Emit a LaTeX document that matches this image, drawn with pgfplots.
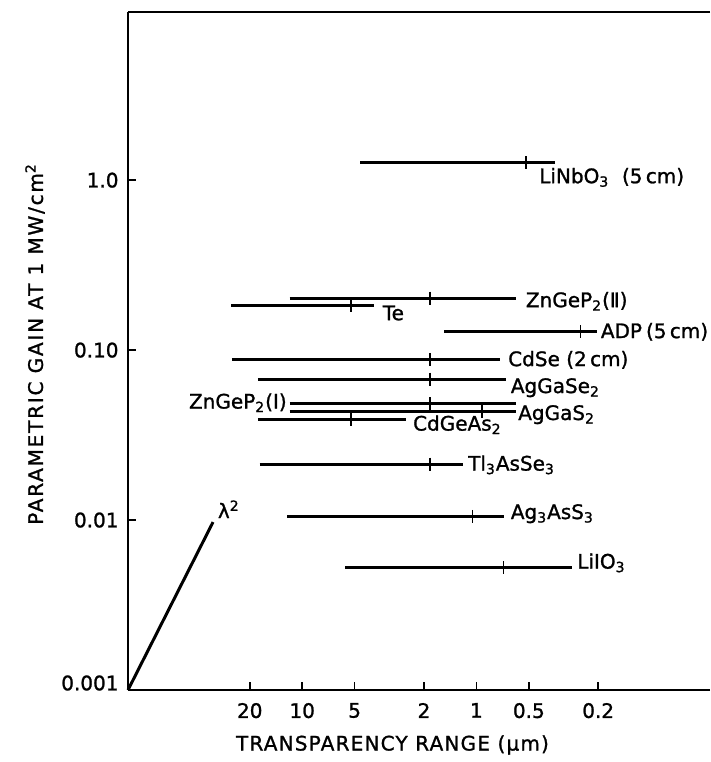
\documentclass[border=0pt]{standalone}
\usepackage{fontspec}
\setmainfont[FakeBold=1.2]{DejaVu Sans}
\newfontfamily\spacedY[LetterSpace=9,FakeBold=1.2]{DejaVu Sans}
\newfontfamily\spacedX[LetterSpace=6,FakeBold=1.2]{DejaVu Sans}
\usepackage{pgfplots}
\pgfplotsset{compat=1.18}
\usetikzlibrary{calc}
\begin{document}
\begin{tikzpicture}
\begin{axis}[
  name=ax, scale only axis, width=291pt, height=339.15pt,
  xmode=log, ymode=log, x dir=reverse,
  xmin=0.0456, xmax=100, ymin=0.001, ymax=9.8,
  separate axis lines, axis x line*=box, axis y line*=left,
  axis line style={line width=1pt, black},
  xtick={20,10,5,2,1,0.5,0.2}, xticklabels={20,10,5,2,1,0.5,0.2},
  xtick pos=left, ytick pos=left,
  ytick={0.01,0.1,1}, yticklabels={0.01,0.10,1.0},
  extra y ticks={0.001}, extra y tick labels={0.001},
  extra y tick style={yticklabel style={yshift=3.5pt}},
  minor xtick={}, minor ytick={}, minor tick length=0pt,
  tick style={line width=0.8pt, black},
  major tick length=4pt, tick align=inside,
  xticklabel style={yshift=-3pt},
  yticklabel style={xshift=-1.2pt},
  /pgf/number format/assume math mode=true,
  clip=false,
]
% lambda^2 guide line
\addplot[line width=1.5pt] coordinates {(100,0.001) (32.5,0.00973)};
% transparency ranges
\addplot[line width=1.5pt] coordinates {(4.63,1.264) (0.354,1.264)};     % LiNbO3
\addplot[line width=1.5pt] coordinates {(11.81,0.2022) (0.594,0.2022)};  % ZnGeP2 (II)
\addplot[line width=1.5pt] coordinates {(25.55,0.1823) (3.867,0.1823)};  % Te
\addplot[line width=1.5pt] coordinates {(1.531,0.1285) (0.2019,0.1285)}; % ADP
\addplot[line width=1.5pt] coordinates {(25.32,0.0881) (0.729,0.0881)};  % CdSe
\addplot[line width=1.5pt] coordinates {(17.95,0.0675) (0.678,0.0675)};  % AgGaSe2
\addplot[line width=1.5pt] coordinates {(11.81,0.0485) (0.594,0.0485)};  % ZnGeP2 (I)
\addplot[line width=1.5pt] coordinates {(11.81,0.0437) (0.594,0.0437)};  % AgGaS2
\addplot[line width=1.5pt] coordinates {(17.95,0.0390) (2.529,0.0390)};  % CdGeAs2
\addplot[line width=1.5pt] coordinates {(17.57,0.02136) (1.192,0.02136)};% Tl3AsSe3
\addplot[line width=1.5pt] coordinates {(12.21,0.0105) (0.696,0.0105)};  % Ag3AsS3
\addplot[line width=1.5pt] coordinates {(5.653,0.00524) (0.2829,0.00524)};% LiIO3
% tick marks on the ranges
\addplot[only marks, mark=|, mark size=3.25pt, mark options={line width=0.8pt}] coordinates {
  (0.520,1.264) (1.853,0.2022) (5.243,0.1823) (0.2525,0.1285) (1.853,0.0881)
  (1.853,0.0675) (1.853,0.0485) (0.931,0.0437) (5.243,0.0390) (1.853,0.02136)
  (1.051,0.0105) (0.7006,0.00524)};
% labels
\node[anchor=base west, inner sep=0pt] at (axis cs:0.4379,0.960) {LiNbO\textsubscript{3}\ \ (5\,cm)};
\node[anchor=base west, inner sep=0pt] at (axis cs:0.5223,0.1790) {ZnGeP\textsubscript{2}(Ⅱ)};
\node[anchor=base west, inner sep=0pt] at (axis cs:3.464,0.1501) {Te};
\node[anchor=base west, inner sep=0pt] at (axis cs:0.194,0.1177) {ADP\hspace{0.2em}(5\,cm)};
\node[anchor=base west, inner sep=0pt] at (axis cs:0.6600,0.0805) {CdSe (2\,cm)};
\node[anchor=base west, inner sep=0pt] at (axis cs:0.6375,0.0559) {AgGaSe\textsubscript{2}};
\node[anchor=base east, inner sep=0pt] at (axis cs:12.21,0.0453) {ZnGeP\textsubscript{2}(Ⅰ)};
\node[anchor=base west, inner sep=0pt] at (axis cs:0.5782,0.0388) {AgGaS\textsubscript{2}};
\node[anchor=base west, inner sep=0pt] at (axis cs:2.320,0.0336) {CdGeAs\textsubscript{2}};
\node[anchor=base west, inner sep=0pt] at (axis cs:1.1206,0.01955) {Tl\textsubscript{3}AsSe\textsubscript{3}};
\node[anchor=base west, inner sep=0pt] at (axis cs:0.6375,0.01014) {Ag\textsubscript{3}AsS\textsubscript{3}};
\node[anchor=base west, inner sep=0pt] at (axis cs:0.2649,0.00518) {LiIO\textsubscript{3}};
\node[anchor=base west, inner sep=0pt] at (axis cs:30.63,0.01027) {λ\textsuperscript{2}};
\end{axis}
\node[rotate=90] at ($(ax.south west)+(-46.5pt,173pt)$) {\spacedY PARAMETRIC GAIN AT 1 MW/cm\textsuperscript{2}};
\node at ($(ax.south west)+(132.25pt,-27.5pt)$) {\spacedX TRANSPARENCY RANGE (μm)};
\pgfresetboundingbox
\path[use as bounding box] ($(ax.south west)+(-64pt,-36pt)$) rectangle ($(ax.north east)+(0pt,5.85pt)$);
\end{tikzpicture}
\end{document}
